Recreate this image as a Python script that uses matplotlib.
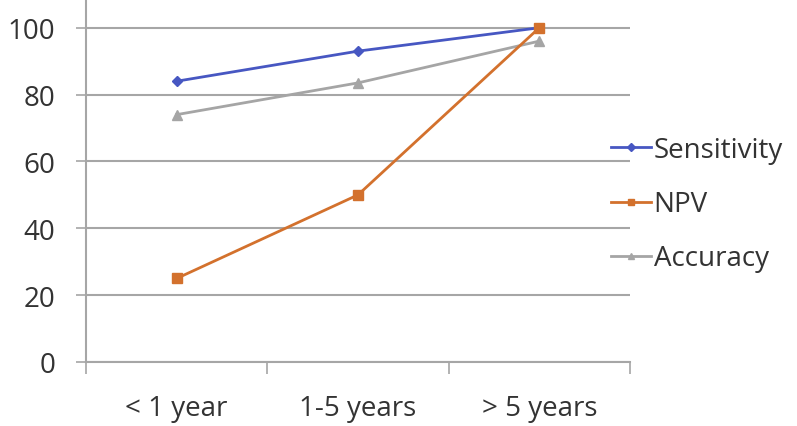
import matplotlib.pyplot as plt
from matplotlib.ticker import FixedLocator, NullFormatter
import numpy as np

categories = ["< 1 year", "1-5 years", "> 5 years"]
sensitivity = [84, 93, 100]
npv = [25, 50, 100]
accuracy = [74, 83.5, 96]
yticks = [0, 20, 40, 60, 80, 100]

plt.rcParams['font.family'] = ['Open Sans', 'DejaVu Sans']

fig = plt.figure(figsize=(7.97, 4.27), dpi=100)
ax = fig.add_axes([86/797, 1-363/427, (630-86)/797, (363-2)/427])

x = np.arange(len(categories))
grid_c = '#A6A6A6'
ax.plot(x, sensitivity, color='#4757C2', lw=2, marker='D', ms=5, label='Sensitivity', zorder=3)
ax.plot(x, npv, color='#D3712D', lw=2, marker='s', ms=7, label='NPV', zorder=4)
ax.plot(x, accuracy, color='#A5A5A5', lw=2, marker='^', ms=7, label='Accuracy', zorder=3)

ax.set_xlim(-0.5, len(categories) - 0.5)
ax.set_ylim(0, 108)
ax.set_yticks(yticks)
ax.yaxis.grid(True, color=grid_c, lw=1.5)
ax.set_axisbelow(True)

ax.set_xticks(x)
ax.set_xticklabels(categories)
ax.xaxis.set_minor_locator(FixedLocator(np.arange(-0.5, len(categories), 1.0)))
ax.xaxis.set_minor_formatter(NullFormatter())
ax.tick_params(axis='x', which='major', length=0, pad=23, labelsize=20, labelcolor='#333333')
ax.tick_params(axis='x', which='minor', length=8.6, width=1.2, color=grid_c)
ax.tick_params(axis='y', which='major', length=7.2, width=1.2, color=grid_c, pad=15, labelsize=20, labelcolor='#333333')

for s in ['top', 'right']:
    ax.spines[s].set_visible(False)
for s in ['left', 'bottom']:
    ax.spines[s].set_color(grid_c)
    ax.spines[s].set_linewidth(1.5)

leg = fig.legend(loc='upper left', bbox_to_anchor=(600/797, 1-126/427), frameon=False,
                 fontsize=20, handlelength=1.45, handletextpad=0.08, labelspacing=0.94,
                 labelcolor='#333333', borderaxespad=0)
for h in leg.legend_handles:
    h.set_markersize(4)

fig.savefig('out.png', dpi=100)
